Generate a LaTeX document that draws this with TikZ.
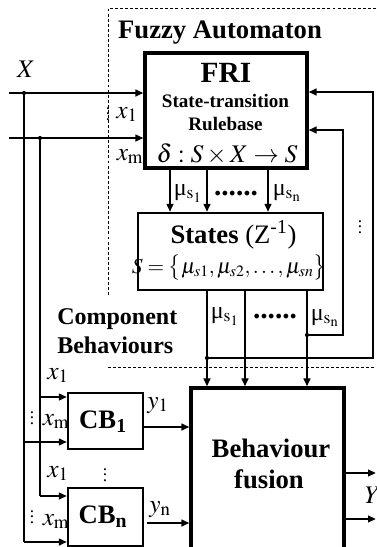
\documentclass[tikz,border=0pt]{standalone}
\usepackage{mathptmx}
\usepackage{fontspec}
\setmainfont{Liberation Serif}
\usetikzlibrary{arrows.meta}
\tikzset{
  blk/.style={draw, line width=1.7pt, inner sep=0pt},
  blkb/.style={draw, line width=2.4pt, inner sep=0pt},
  wire/.style={line width=1.6pt},
  conn/.style={line width=1.6pt, -{Triangle[length=6pt,width=5pt]}},
  fence/.style={line width=0.5pt, dash pattern=on 2.2pt off 1.6pt},
  dot/.style={circle, fill=black, inner sep=1.1pt},
  lab/.style={font=\fontsize{19}{21}\selectfont, inner sep=0pt, anchor=base},
  mu/.style={font=\fontsize{18}{20}\selectfont, inner sep=0pt, anchor=base},
  hd/.style={font=\fontsize{20}{22}\selectfont\bfseries, inner sep=0pt, anchor=base},
  sm/.style={font=\fontsize{14.3}{16}\selectfont\bfseries, inner sep=0pt, anchor=base},
  vd/.style={font=\fontsize{13}{14}\selectfont, inner sep=0pt},
}

\begin{document}
\begin{tikzpicture}[x=0.75pt, y=-0.75pt]
  \useasboundingbox (0,0) rectangle (376,547);

  % fuzzy automaton frame
  \draw[fence] (376,8) -- (108,8) -- (108,297);
  \draw[fence] (108,367) -- (376,367);
  \node[hd, font=\fontsize{20}{22}\selectfont\bfseries] (fa) at (220,38) {Fuzzy Automaton};

  % blocks
  \node[blkb, minimum width=121.5pt, minimum height=86.25pt] (fri) at (226,110.5) {};
  \node[hd, font=\fontsize{22}{24}\selectfont\bfseries] (frit) at (226,82) {FRI};
  \node[sm] (st) at (225.5,107) {State-transition};
  \node[sm] (rb) at (225.5,130) {Rulebase};
  \node[lab] (delta) at (227,162) {$\delta:S\times X\to S$};

  \node[blk, minimum width=138.75pt, minimum height=57.75pt] (states) at (230.5,251.5) {};
  \node[lab, font=\fontsize{20}{22}\selectfont] (stt) at (233.5,243) {\textbf{States} (Z\textsuperscript{-1})};
  \node[lab, font=\fontsize{16}{18}\selectfont] (sset) at (229,273) {$S=\bigl\{\mu_{s1},\mu_{s2},\ldots,\mu_{sn}\bigr\}$};

  \node[blkb, minimum width=114.75pt, minimum height=129pt] (fusion) at (267.5,474) {};
  \node[hd] (bf1) at (271,457) {Behaviour};
  \node[hd] (bf2) at (269,488) {fusion};

  \node[blk, minimum width=56.25pt, minimum height=42pt] (cb1) at (105.5,421) {};
  \node[hd] (cb1t) at (103,428) {CB\textsubscript{1}};
  \node[blk, minimum width=56.25pt, minimum height=43.5pt] (cbn) at (105.5,517) {};
  \node[hd] (cbnt) at (103,523) {CB\textsubscript{n}};

  \node[hd, font=\fontsize{18}{20}\selectfont\bfseries, anchor=base west] (cb) at (57,324) {Component};
  \node[hd, font=\fontsize{18}{20}\selectfont\bfseries, anchor=base west] (cbb) at (57,353) {Behaviours};

  % inputs
  \node[lab] (xin) at (26,77) {$X$};
  \coordinate (in1) at (9,93);
  \coordinate (inm) at (9,138);
  \node[dot] (j1) at (24,93) {};
  \node[dot] (jm) at (40,138) {};
  \draw[conn] (in1) -- (in1 -| fri.west);
  \draw[conn] (inm) -- (inm -| fri.west);
  \node[lab] (x1a) at (127,118) {$x_1$};
  \node[lab] (xma) at (130,160) {$x_{\mathrm{m}}$};
  \node[vd] (vda) at (108,110) {$\vdots$};

  % inputs to the component behaviours
  \coordinate (r1) at (0,397);
  \coordinate (r2) at (0,442);
  \coordinate (r3) at (0,496);
  \coordinate (r4) at (0,542);
  \draw[wire] (j1) -- (j1 |- r4);
  \draw[wire] (jm) -- (jm |- r3);
  \draw[conn] (jm |- r1) -- (r1 -| cb1.west);
  \draw[conn] (j1 |- r2) -- (r2 -| cb1.west);
  \draw[conn] (jm |- r3) -- (r3 -| cbn.west);
  \draw[conn] (j1 |- r4) -- (r4 -| cbn.west);
  \node[lab] (x1b) at (58,379) {$x_1$};
  \node[lab] (xmb) at (56,425) {$x_{\mathrm{m}}$};
  \node[vd] (vdb) at (32,414) {$\vdots$};
  \node[lab] (x1c) at (58,477) {$x_1$};
  \node[lab] (xmc) at (56,525) {$x_{\mathrm{m}}$};
  \node[vd] (vdc) at (32,513) {$\vdots$};
  \node[vd] (vdd) at (105,471) {$\vdots$};

  % outputs of the component behaviours
  \coordinate (o1) at (0,427);
  \coordinate (on) at (147,523);
  \draw[conn] (o1 -| cb1.east) -- (o1 -| fusion.west);
  \draw[conn] (on) -- (on -| fusion.west);
  \node[lab] (y1) at (158,408) {$y_1$};
  \node[lab] (yn) at (160,512) {$y_{\mathrm{n}}$};

  % FRI to states
  \coordinate (a1) at (170,0);
  \coordinate (a2) at (207,0);
  \coordinate (a3) at (268,0);
  \foreach \c in {a1,a2,a3}
    \draw[conn] (fri.south -| \c) -- (states.north -| \c);
  \node[mu] (mua1) at (188,195) {μ$_{\mathrm{s}_1}$};
  \node[mu, font=\fontsize{22}{24}\selectfont\bfseries] (dta) at (236,195) {......};
  \node[mu] (muan) at (287,195) {μ$_{\mathrm{s}_{\mathrm{n}}}$};

  % states to fusion
  \coordinate (b1) at (207,0);
  \coordinate (b2) at (245,0);
  \coordinate (b3) at (307,0);
  \foreach \c in {b1,b2,b3}
    \draw[conn] (states.south -| \c) -- (fusion.north -| \c);
  \node[mu] (mub1) at (225,318) {μ$_{\mathrm{s}_1}$};
  \node[mu, font=\fontsize{22}{24}\selectfont\bfseries] (dtb) at (275,318) {......};
  \node[mu] (mubn) at (325,320) {μ$_{\mathrm{s}_{\mathrm{n}}}$};

  % feedback loops
  \node[dot] (f1) at (307,335) {};
  \node[dot] (f2) at (207,358) {};
  \coordinate (k1) at (343,130);
  \coordinate (k2) at (373,92);
  \draw[conn] (f1) -- (f1 -| k1) -- (k1) -- (k1 -| fri.east);
  \draw[conn] (f2) -- (f2 -| k2) -- (k2) -- (k2 -| fri.east);
  \node[vd] (vde) at (360,223) {$\vdots$};

  % fusion outputs
  \coordinate (z1) at (376,473);
  \coordinate (z2) at (376,519);
  \draw[conn] (z1 -| fusion.east) -- (z1);
  \draw[conn] (z2 -| fusion.east) -- (z2);
  \node[lab] (yout) at (373,503) {$Y$};
\end{tikzpicture}
\end{document}
